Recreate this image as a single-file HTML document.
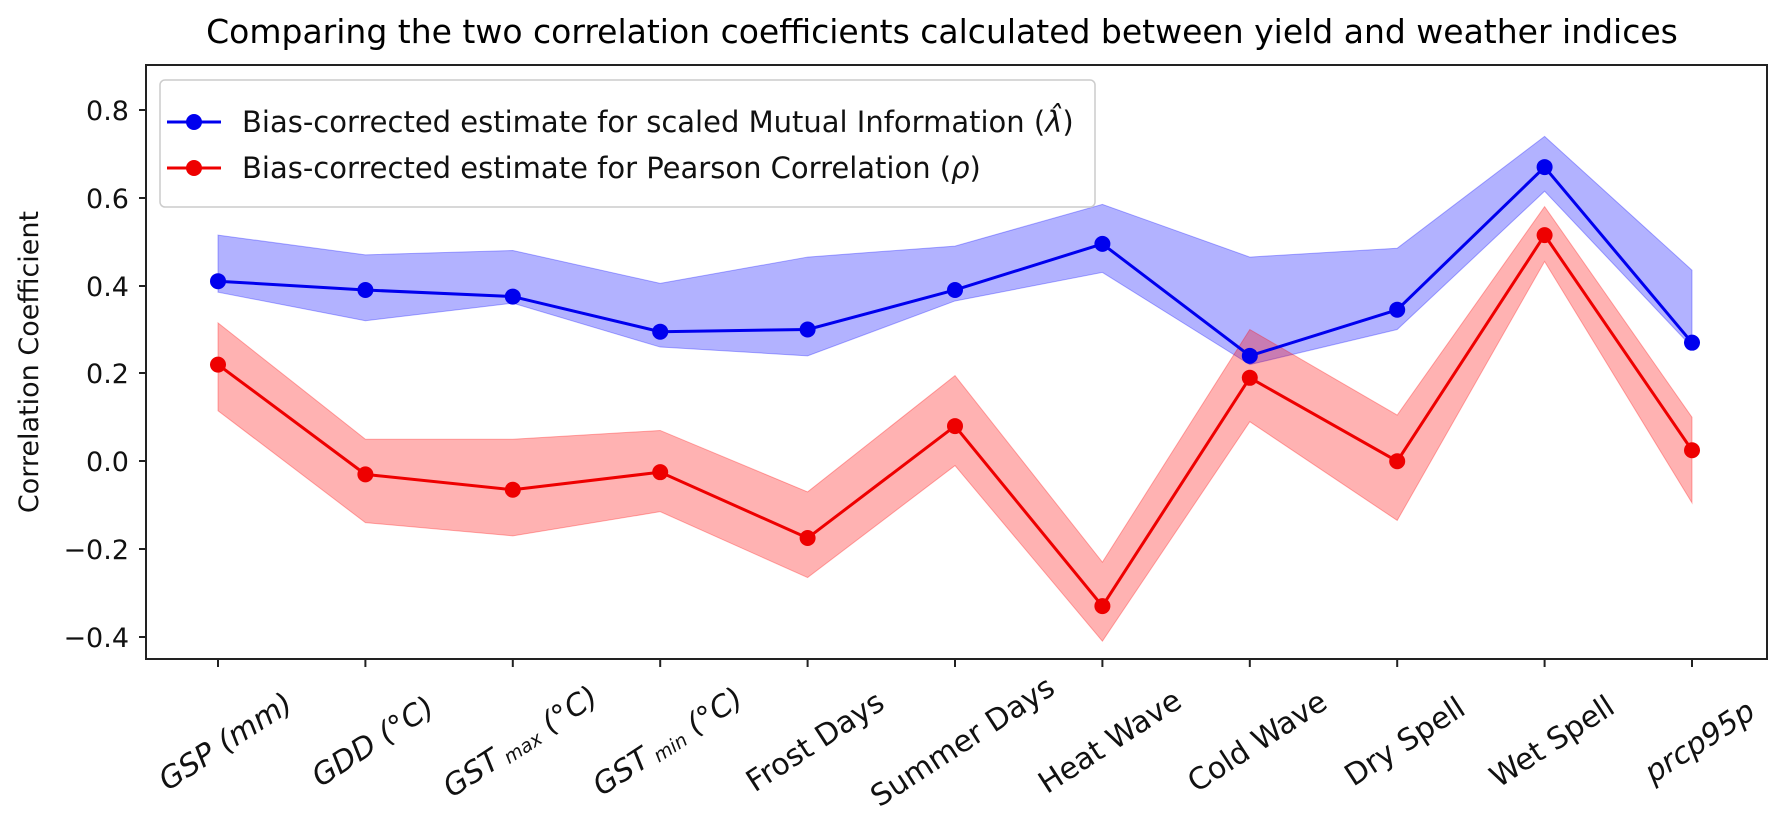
<!DOCTYPE html>
<html><head><meta charset="utf-8"><style>
html,body{margin:0;padding:0;background:#fff;}
svg{display:block;font-family:"DejaVu Sans","Liberation Sans",sans-serif;}
</style></head><body>
<svg id="s" width="1780" height="813" viewBox="0 0 1780 813" xmlns="http://www.w3.org/2000/svg">
<text x="942" y="43" font-size="33" text-anchor="middle" fill="#000">Comparing the two correlation coefficients calculated between yield and weather indices</text>
<g id="plot"></g>
<rect x="146" y="65" width="1621" height="594" fill="none" stroke="#222" stroke-width="2"/>
<g font-size="27" fill="#111" text-anchor="end">
<text x="129" y="120">0.8</text>
<text x="129" y="208">0.6</text>
<text x="129" y="296">0.4</text>
<text x="129" y="383">0.2</text>
<text x="129" y="471">0.0</text>
<text x="129" y="559">−0.2</text>
<text x="129" y="647">−0.4</text>
</g>
<g stroke="#222" stroke-width="2">
<line x1="139" x2="146" y1="110" y2="110"/><line x1="139" x2="146" y1="198" y2="198"/>
<line x1="139" x2="146" y1="286" y2="286"/><line x1="139" x2="146" y1="373" y2="373"/>
<line x1="139" x2="146" y1="461" y2="461"/><line x1="139" x2="146" y1="549" y2="549"/>
<line x1="139" x2="146" y1="637" y2="637"/>
</g>
<text transform="translate(38,362) rotate(-90)" font-size="27" text-anchor="middle" fill="#111">Correlation Coefficient</text>
<g id="xt" font-size="30" fill="#111" font-style="italic" text-anchor="middle"></g>
<g>
<rect x="160" y="80" width="935" height="127" rx="5" fill="#fff" fill-opacity="0.85" stroke="#ccc" stroke-width="1.5"/>
<line x1="167" x2="221" y1="122" y2="122" stroke="#0000ee" stroke-width="3"/><circle cx="194" cy="122" r="8" fill="#0000ee"/>
<line x1="167" x2="221" y1="168" y2="168" stroke="#ee0000" stroke-width="3"/><circle cx="194" cy="168" r="8" fill="#ee0000"/>
<text x="242" y="132" font-size="29" fill="#111">Bias-corrected estimate for scaled Mutual Information (<tspan font-style="italic">λ̂</tspan>)</text>
<text x="242" y="178" font-size="29" fill="#111">Bias-corrected estimate for Pearson Correlation (<tspan font-style="italic">ρ</tspan>)</text>
</g>
</svg>
<script>
var X=function(i){return 218+i*147.4;},Y=function(v){return 110+(0.8-v)*439;};
var b=[0.41,0.39,0.375,0.295,0.30,0.39,0.495,0.24,0.345,0.67,0.27];
var bu=[0.515,0.47,0.48,0.405,0.465,0.49,0.585,0.465,0.485,0.74,0.435];
var bl=[0.385,0.32,0.36,0.26,0.24,0.365,0.43,0.22,0.30,0.615,0.26];
var r=[0.22,-0.03,-0.065,-0.025,-0.175,0.08,-0.33,0.19,0.0,0.515,0.025];
var ru=[0.315,0.05,0.05,0.07,-0.07,0.195,-0.23,0.30,0.105,0.58,0.10];
var rl=[0.115,-0.14,-0.17,-0.115,-0.265,-0.01,-0.41,0.09,-0.135,0.455,-0.095];
function band(u,l,c){var p=u.map(function(v,i){return X(i)+','+Y(v)});for(var i=l.length-1;i>=0;i--)p.push(X(i)+','+Y(l[i]));return '<polygon points="'+p.join(' ')+'" fill="'+c+'" fill-opacity="0.3" stroke="'+c+'" stroke-opacity="0.3"/>';}
function line(a,c){var s='<polyline fill="none" stroke="'+c+'" stroke-width="3" points="'+a.map(function(v,i){return X(i)+','+Y(v)}).join(' ')+'"/>';a.forEach(function(v,i){s+='<circle cx="'+X(i)+'" cy="'+Y(v)+'" r="8" fill="'+c+'"/>'});return s;}
document.getElementById('plot').innerHTML=band(bu,bl,'#0000ff')+band(ru,rl,'#ff0000')+line(b,'#0000ee')+line(r,'#ee0000');
var labs=['GSP (mm)','GDD (°C)','GST<tspan font-size="19" dy="3"> max</tspan><tspan dy="-3"> (°C)</tspan>','GST<tspan font-size="19" dy="3"> min</tspan><tspan dy="-3"> (°C)</tspan>','<tspan font-style="normal">Frost Days</tspan>','<tspan font-style="normal">Summer Days</tspan>','<tspan font-style="normal">Heat Wave</tspan>','<tspan font-style="normal">Cold Wave</tspan>','<tspan font-style="normal">Dry Spell</tspan>','<tspan font-style="normal">Wet Spell</tspan>','prcp95p'];
var h='';labs.forEach(function(t,i){var x=X(i);h+='<line x1="'+x+'" x2="'+x+'" y1="659" y2="667" stroke="#222" stroke-width="2"/><text transform="translate('+(x+13)+',750) rotate(-33)">'+t+'</text>';});
document.getElementById('xt').innerHTML=h;
</script>
</body></html>
